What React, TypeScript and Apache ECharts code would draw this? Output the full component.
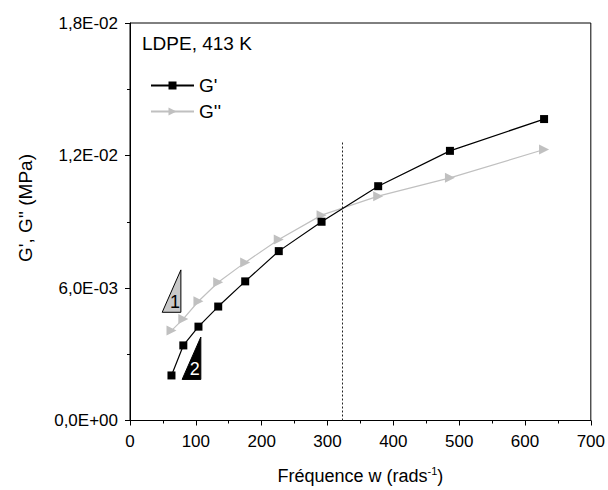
import React, { useEffect, useRef } from "react";
import * as echarts from "echarts";

const freq = [63, 81, 104, 134, 175, 226, 291, 377, 486, 629];
const gPrime = [2.04e-3, 3.4e-3, 4.25e-3, 5.16e-3, 6.3e-3, 7.67e-3, 9.0e-3, 10.61e-3, 12.21e-3, 13.65e-3];
const gDouble = [4.07e-3, 4.6e-3, 5.4e-3, 6.26e-3, 7.16e-3, 8.2e-3, 9.3e-3, 10.16e-3, 10.99e-3, 12.27e-3];
const crossoverX = 323;
const crossoverTop = 0.0126;
// slope triangles: [xLeft, yBottom, xRight, yTop, label]
const slopeTriangles: [number, number, number, number, string][] = [
  [48.9, 4.9e-3, 77.3, 6.82e-3, "1"],
  [79.2, 1.86e-3, 107.6, 3.78e-3, "2"],
];
const triFill = ["#c8c8c8", "#000000"];
const triText = ["#000000", "#ffffff"];

const FONT = "'Liberation Sans', Arial, sans-serif";

function fmtSci(v: number): string {
  if (v === 0) return "0,0E+00";
  const e = Math.floor(Math.log10(Math.abs(v)) + 1e-9);
  const m = v / Math.pow(10, e);
  const sign = e < 0 ? "-" : "+";
  const ee = String(Math.abs(e)).padStart(2, "0");
  return m.toFixed(1).replace(".", ",") + "E" + sign + ee;
}

export default function App() {
  const ref = useRef<HTMLDivElement>(null);
  useEffect(() => {
    if (!ref.current) return;
    const chart = echarts.init(ref.current, null, { renderer: "svg" });
    chart.setOption({
      animation: false,
      backgroundColor: "#ffffff",
      textStyle: { fontFamily: FONT },
      grid: {
        left: 130,
        right: 16,
        top: 23,
        bottom: 68,
        show: true,
        borderColor: "#000",
        borderWidth: 1,
      },
      legend: {
        orient: "vertical",
        left: 145,
        top: 71,
        itemWidth: 43,
        itemHeight: 10,
        itemGap: 7,
        textStyle: { fontSize: 19, color: "#000", fontFamily: FONT },
        data: ["G'", "G''"],
      },
      xAxis: {
        type: "value",
        min: 0,
        max: 700,
        interval: 100,
        name: "Fréquence w (rads{sup|-1})",
        nameLocation: "middle",
        nameGap: 45,
        nameTextStyle: {
          fontSize: 18,
          color: "#000",
          fontFamily: FONT,
          rich: {
            sup: { fontSize: 11, color: "#000", fontFamily: FONT, padding: [0, 0, 10, 0] },
          },
        },
        axisLine: { show: true, lineStyle: { color: "#000", width: 1 } },
        axisTick: { show: true, inside: false, length: 5, lineStyle: { color: "#000" } },
        minorTick: { show: true, splitNumber: 2, length: 3, lineStyle: { color: "#000" } },
        splitLine: { show: false },
        axisLabel: { fontSize: 17, color: "#000", margin: 12, fontFamily: FONT },
      },
      yAxis: {
        type: "value",
        min: 0,
        max: 0.018,
        interval: 0.006,
        axisLine: { show: true, lineStyle: { color: "#000", width: 1 } },
        axisTick: { show: true, inside: false, length: 5, lineStyle: { color: "#000" } },
        minorTick: { show: true, splitNumber: 2, length: 3, lineStyle: { color: "#000" } },
        splitLine: { show: false },
        axisLabel: {
          fontSize: 17,
          color: "#000",
          margin: 12,
          fontFamily: FONT,
          formatter: (v: number) => fmtSci(v),
        },
      },
      graphic: [
        {
          type: "text",
          x: 25,
          y: 208,
          rotation: Math.PI / 2,
          style: {
            text: "G', G'' (MPa)",
            fontSize: 19,
            fontFamily: FONT,
            fill: "#000",
            align: "center",
            verticalAlign: "middle",
          },
        },
        {
          type: "text",
          x: 142,
          y: 43,
          style: {
            text: "LDPE, 413 K",
            fontSize: 19,
            fontFamily: FONT,
            fill: "#000",
            align: "left",
            verticalAlign: "middle",
          },
        },
      ],
      series: [
        {
          name: "G'",
          type: "line",
          data: freq.map((f, i) => [f, gPrime[i]]),
          symbol: "rect",
          symbolSize: 8,
          itemStyle: { color: "#000" },
          lineStyle: { color: "#000", width: 1.2 },
          z: 3,
          markLine: {
            silent: true,
            symbol: ["none", "none"],
            label: { show: false },
            lineStyle: { color: "#222", type: [2, 2], width: 1 },
            data: [[{ coord: [crossoverX, 0] }, { coord: [crossoverX, crossoverTop] }]],
          },
        },
        {
          name: "G''",
          type: "line",
          data: freq.map((f, i) => [f, gDouble[i]]),
          symbol: "triangle",
          symbolRotate: -90,
          symbolSize: 10,
          itemStyle: { color: "#c0c0c0" },
          lineStyle: { color: "#c0c0c0", width: 1.2 },
          z: 2,
        },
        {
          type: "custom",
          silent: true,
          data: slopeTriangles.map((t) => [t[0], t[1], t[2], t[3]]),
          renderItem: (params: any, api: any) => {
            const i = params.dataIndex;
            const bl = api.coord([api.value(0), api.value(1)]);
            const tr = api.coord([api.value(2), api.value(3)]);
            const label = slopeTriangles[i][4];
            return {
              type: "group",
              children: [
                {
                  type: "polygon",
                  shape: { points: [[bl[0], bl[1]], [tr[0], bl[1]], [tr[0], tr[1]]] },
                  style: { fill: triFill[i], stroke: "#000", lineWidth: 1 },
                },
                {
                  type: "text",
                  x: tr[0] - 6,
                  y: bl[1] - 10,
                  style: {
                    text: label,
                    fontSize: 18,
                    fontFamily: FONT,
                    fill: triText[i],
                    align: "center",
                    verticalAlign: "middle",
                  },
                },
              ],
            };
          },
        },
      ],
    });
    return () => chart.dispose();
  }, []);
  return (
    <div
      ref={ref}
      style={{ position: "absolute", left: 0, top: 0, width: 608, height: 490 }}
    />
  );
}
